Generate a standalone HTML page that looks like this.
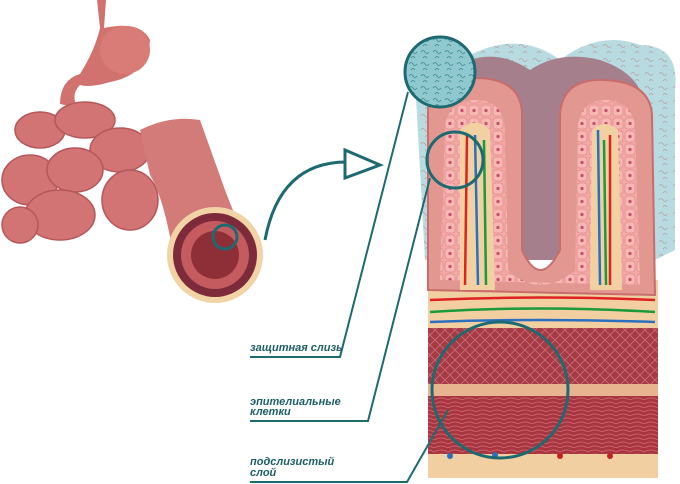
<!DOCTYPE html>
<html><head><meta charset="utf-8"><style>
html,body{margin:0;padding:0;background:#fff;width:680px;height:484px;overflow:hidden}
svg{display:block}
.l{font-family:"Liberation Sans",sans-serif;font-style:italic;font-weight:bold;font-size:11px;fill:#1d5f66}
</style></head><body>
<svg width="680" height="484" viewBox="0 0 680 484" xmlns="http://www.w3.org/2000/svg">
<defs>
<pattern id="mus" width="14" height="8" patternUnits="userSpaceOnUse"><rect width="14" height="8" fill="#a8343f"/><path d="M0 4 Q7 0 14 4 M0 8 Q7 4 14 8" stroke="#c9626a" stroke-width="1" fill="none"/></pattern>
<pattern id="cel" width="10" height="10" patternUnits="userSpaceOnUse"><rect width="10" height="10" fill="#a63a45"/><path d="M0 5 L5 0 L10 5 L5 10Z" stroke="#c8707a" stroke-width="0.8" fill="none"/></pattern>
<pattern id="wav" width="12" height="12" patternUnits="userSpaceOnUse"><rect width="12" height="12" fill="#8fc9cf"/><path d="M1 4 q2-3 4 0 t4 0 M3 10 q2-3 4 0" stroke="#3d8b93" stroke-width="0.8" fill="none"/></pattern>
<pattern id="wav2" width="14" height="14" patternUnits="userSpaceOnUse"><rect width="14" height="14" fill="#b7dbe0"/><path d="M1 4 q2-3 4 0 t4 0 M5 11 q2-3 4 0" stroke="#b88" stroke-width="0.6" fill="none"/></pattern>
<pattern id="cells" width="12" height="13" patternUnits="userSpaceOnUse"><rect width="12" height="13" fill="#f4a8a5"/><rect x="1" y="1" width="10" height="11" rx="3" fill="#f7b7b3" stroke="#e08c8a" stroke-width="0.7"/><circle cx="6" cy="6.5" r="1.6" fill="#c2506a"/></pattern>
</defs>
<!-- intestine -->
<path d="M97 0 L106 0 L104 28 Q140 20 150 40 Q148 75 110 82 Q90 88 80 85 Q70 95 78 108 L60 104 Q60 80 80 74 Q95 50 100 28Z" fill="#d2726f"/>
<ellipse cx="125" cy="50" rx="25" ry="24" fill="#d97c78"/>
<g fill="#d27473" stroke="#b5575a" stroke-width="1.5">
<ellipse cx="40" cy="130" rx="25" ry="18"/><ellipse cx="85" cy="120" rx="30" ry="18"/>
<ellipse cx="120" cy="150" rx="30" ry="22"/><ellipse cx="30" cy="180" rx="28" ry="25"/>
<ellipse cx="75" cy="170" rx="28" ry="22"/><ellipse cx="60" cy="215" rx="35" ry="25"/>
<ellipse cx="130" cy="200" rx="28" ry="30"/><ellipse cx="20" cy="225" rx="18" ry="18"/>
</g>
<path d="M140 130 Q170 115 200 120 L225 190 Q240 230 255 255 L175 265 Q165 200 150 175Z" fill="#d37b78"/>
<circle cx="215" cy="255" r="48" fill="#f2d3a6"/>
<circle cx="215" cy="255" r="42" fill="#7d2a3a"/>
<circle cx="215" cy="255" r="34" fill="#c45b5e"/>
<circle cx="215" cy="255" r="24" fill="#8e2f38"/>
<circle cx="225" cy="237" r="12" fill="none" stroke="#1d6a70" stroke-width="3"/>
<path d="M265 240 Q280 160 350 162" fill="none" stroke="#1d6a70" stroke-width="3"/>
<path d="M345 150 L380 165 L345 178 Z" fill="#fff" stroke="#1d6a70" stroke-width="3"/>
<!-- right panel -->
<path d="M415 80 Q430 40 470 55 Q520 30 560 60 Q600 30 640 45 Q680 45 675 90 L675 250 L655 260 L425 260 Z" fill="url(#wav2)"/>
<path d="M470 60 Q500 50 530 70 Q560 50 600 60 Q630 70 640 90 L640 260 L470 260Z" fill="#a57f8c"/>
<rect x="428" y="280" width="230" height="198" fill="#f2cfa1"/>
<!-- villi -->
<path d="M428 290 L428 110 Q430 75 475 78 Q522 78 522 115 L522 250 Q540 290 560 250 L560 115 Q562 78 605 80 Q650 82 652 115 L655 295Z" fill="#e29791" stroke="#c86d6c" stroke-width="2"/>
<path d="M440 280 L445 125 Q450 100 476 100 Q500 100 505 125 L508 270 Q540 300 575 270 L578 125 Q582 100 605 100 Q630 100 635 125 L640 285Z" fill="url(#cells)"/>
<path d="M460 290 L460 130 Q475 115 490 130 L495 290Z M590 290 L592 130 Q605 118 618 130 L622 290Z" fill="#f1d1a2"/>
<path d="M465 285 L467 135 M610 285 L610 135" stroke="#d22" stroke-width="2.5" fill="none"/>
<path d="M478 285 L475 135 M600 285 L598 130" stroke="#2a6fc0" stroke-width="2.5" fill="none"/>
<path d="M486 285 L484 140 M606 285 L604 140" stroke="#1a9a3a" stroke-width="2.5" fill="none"/>
<path d="M430 300 Q540 295 655 300" stroke="#d22" stroke-width="2.5" fill="none"/>
<path d="M430 312 Q540 305 655 312" stroke="#1a9a3a" stroke-width="2.5" fill="none"/>
<path d="M430 322 Q540 318 655 322" stroke="#2a6fc0" stroke-width="2.5" fill="none"/>
<rect x="428" y="328" width="230" height="56" fill="url(#cel)"/>
<rect x="428" y="384" width="230" height="12" fill="#e8b48f"/>
<rect x="428" y="396" width="230" height="58" fill="url(#mus)"/>
<rect x="428" y="454" width="230" height="24" fill="#f2cfa1"/>
<circle cx="450" cy="456" r="3" fill="#2a6fc0"/><circle cx="495" cy="455" r="3" fill="#2a6fc0"/><circle cx="560" cy="456" r="3" fill="#c0202a"/><circle cx="610" cy="456" r="3" fill="#c0202a"/>
<!-- magnifiers -->
<circle cx="440" cy="72" r="35" fill="url(#wav)" stroke="#1d6a70" stroke-width="3"/>
<circle cx="455" cy="160" r="28" fill="none" stroke="#1d6a70" stroke-width="3"/>
<circle cx="500" cy="390" r="68" fill="none" stroke="#1d6a70" stroke-width="3"/>
<!-- leaders -->
<polyline points="250,357 340,357 408,92" fill="none" stroke="#1d6a70" stroke-width="2"/>
<polyline points="250,421 368,421 430,178" fill="none" stroke="#1d6a70" stroke-width="2"/>
<polyline points="250,482 407,482 448,410" fill="none" stroke="#1d6a70" stroke-width="2"/>
<text class="l" x="250" y="351">защитная слизь</text>
<text class="l" x="250" y="405">эпителиальные</text>
<text class="l" x="250" y="415">клетки</text>
<text class="l" x="250" y="465">подслизистый</text>
<text class="l" x="250" y="476">слой</text>
</svg>
</body></html>
